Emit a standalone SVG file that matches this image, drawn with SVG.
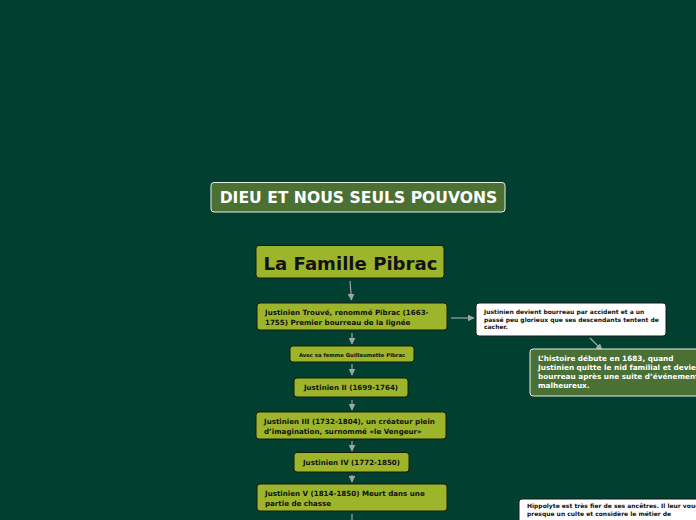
<svg xmlns="http://www.w3.org/2000/svg" width="696" height="520" viewBox="0 0 696 520">
<defs>
<style>
text{font-family:"DejaVu Sans","Verdana",sans-serif;font-weight:bold}
.olive{fill:#9db52b;stroke:#1a1a0a;stroke-width:1}
.green{fill:#4a7034;stroke:#e8efe4;stroke-width:1}
.note{fill:#ffffff;stroke:#1a1a1a;stroke-width:1}
.conn{stroke:#9aa6a2;stroke-width:1.2;fill:none;marker-end:url(#ah)}
.dk{fill:#111}
.wt{fill:#fff}
</style>
<marker id="ah" viewBox="0 0 10 10" refX="9" refY="5" markerWidth="7" markerHeight="7" orient="auto" markerUnits="userSpaceOnUse">
<path d="M0,0 L10,5 L0,10 z" fill="#9aa6a2"/>
</marker>
</defs>
<rect width="696" height="520" fill="#013f31"/>
<g id="connectors">
<path class="conn" d="M350,281 L351.5,300"/>
<path class="conn" d="M352,333 L352,344"/>
<path class="conn" d="M352,364 L352,375"/>
<path class="conn" d="M352,400 L352,410"/>
<path class="conn" d="M352,441 L352,451"/>
<path class="conn" d="M352,475 L352,482"/>
<path stroke="#9aa6a2" stroke-width="1.2" d="M352,514 L352,520"/>
<path class="conn" d="M451,318 L474,318"/>
<path class="conn" d="M590,338 L602,350"/>
</g>
<g id="title">
<rect class="green" x="211" y="182.5" width="294" height="29.5" rx="3"/>
<text class="wt" x="358.5" y="203" font-size="15.6" text-anchor="middle">DIEU ET NOUS SEULS POUVONS</text>
</g>
<g id="root">
<rect class="olive" x="256" y="245.5" width="188" height="32.5" rx="3"/>
<text class="dk" x="350.5" y="270" font-size="18.1" text-anchor="middle">La Famille Pibrac</text>
</g>
<g id="n1">
<rect class="olive" x="257" y="303" width="190" height="27" rx="3"/>
<text class="dk" x="265" y="315" font-size="7.1">Justinien Trouvé, renommé Pibrac (1663-</text>
<text class="dk" x="265" y="325" font-size="7.1">1755) Premier bourreau de la lignée</text>
</g>
<g id="n2">
<rect class="olive" x="290" y="346" width="124" height="16" rx="3"/>
<text class="dk" x="352" y="356.5" font-size="5.3" text-anchor="middle">Avec sa femme Guillaumette Pibrac</text>
</g>
<g id="n3">
<rect class="olive" x="294" y="378" width="114" height="19" rx="3"/>
<text class="dk" x="351" y="390" font-size="7.1" text-anchor="middle">Justinien II (1699-1764)</text>
</g>
<g id="n4">
<rect class="olive" x="256" y="412" width="190" height="27" rx="3"/>
<text class="dk" x="264" y="424" font-size="7.1">Justinien III (1732-1804), un créateur plein</text>
<text class="dk" x="264" y="434" font-size="7.1">d’imagination, surnommé «le Vengeur»</text>
</g>
<g id="n5">
<rect class="olive" x="294" y="452.5" width="115" height="19.5" rx="3"/>
<text class="dk" x="351.5" y="465" font-size="7.1" text-anchor="middle">Justinien IV (1772-1850)</text>
</g>
<g id="n6">
<rect class="olive" x="257" y="484" width="190" height="27" rx="3"/>
<text class="dk" x="265" y="496" font-size="7.1">Justinien V (1814-1850) Meurt dans une</text>
<text class="dk" x="265" y="506" font-size="7.1">partie de chasse</text>
</g>
<g id="note1">
<rect class="note" x="476" y="303" width="190" height="33" rx="3"/>
<text class="dk" x="484" y="314" font-size="6">Justinien devient bourreau par accident et a un</text>
<text class="dk" x="484" y="321.5" font-size="6">passé peu glorieux que ses descendants tentent de</text>
<text class="dk" x="484" y="329" font-size="6">cacher.</text>
</g>
<g id="note2">
<rect class="green" x="530" y="349" width="180" height="47" rx="3"/>
<text class="wt" x="538" y="361" font-size="7.3">L’histoire débute en 1683, quand</text>
<text class="wt" x="538" y="370" font-size="7.3">Justinien quitte le nid familial et devient</text>
<text class="wt" x="538" y="379" font-size="7.3">bourreau après une suite d’événements</text>
<text class="wt" x="538" y="388" font-size="7.3">malheureux.</text>
</g>
<g id="note3">
<rect class="note" x="519" y="499" width="190" height="30" rx="3"/>
<text class="dk" x="527" y="508" font-size="6">Hippolyte est très fier de ses ancêtres. Il leur voue</text>
<text class="dk" x="527" y="516" font-size="6">presque un culte et considère le métier de</text>
</g>
</svg>
